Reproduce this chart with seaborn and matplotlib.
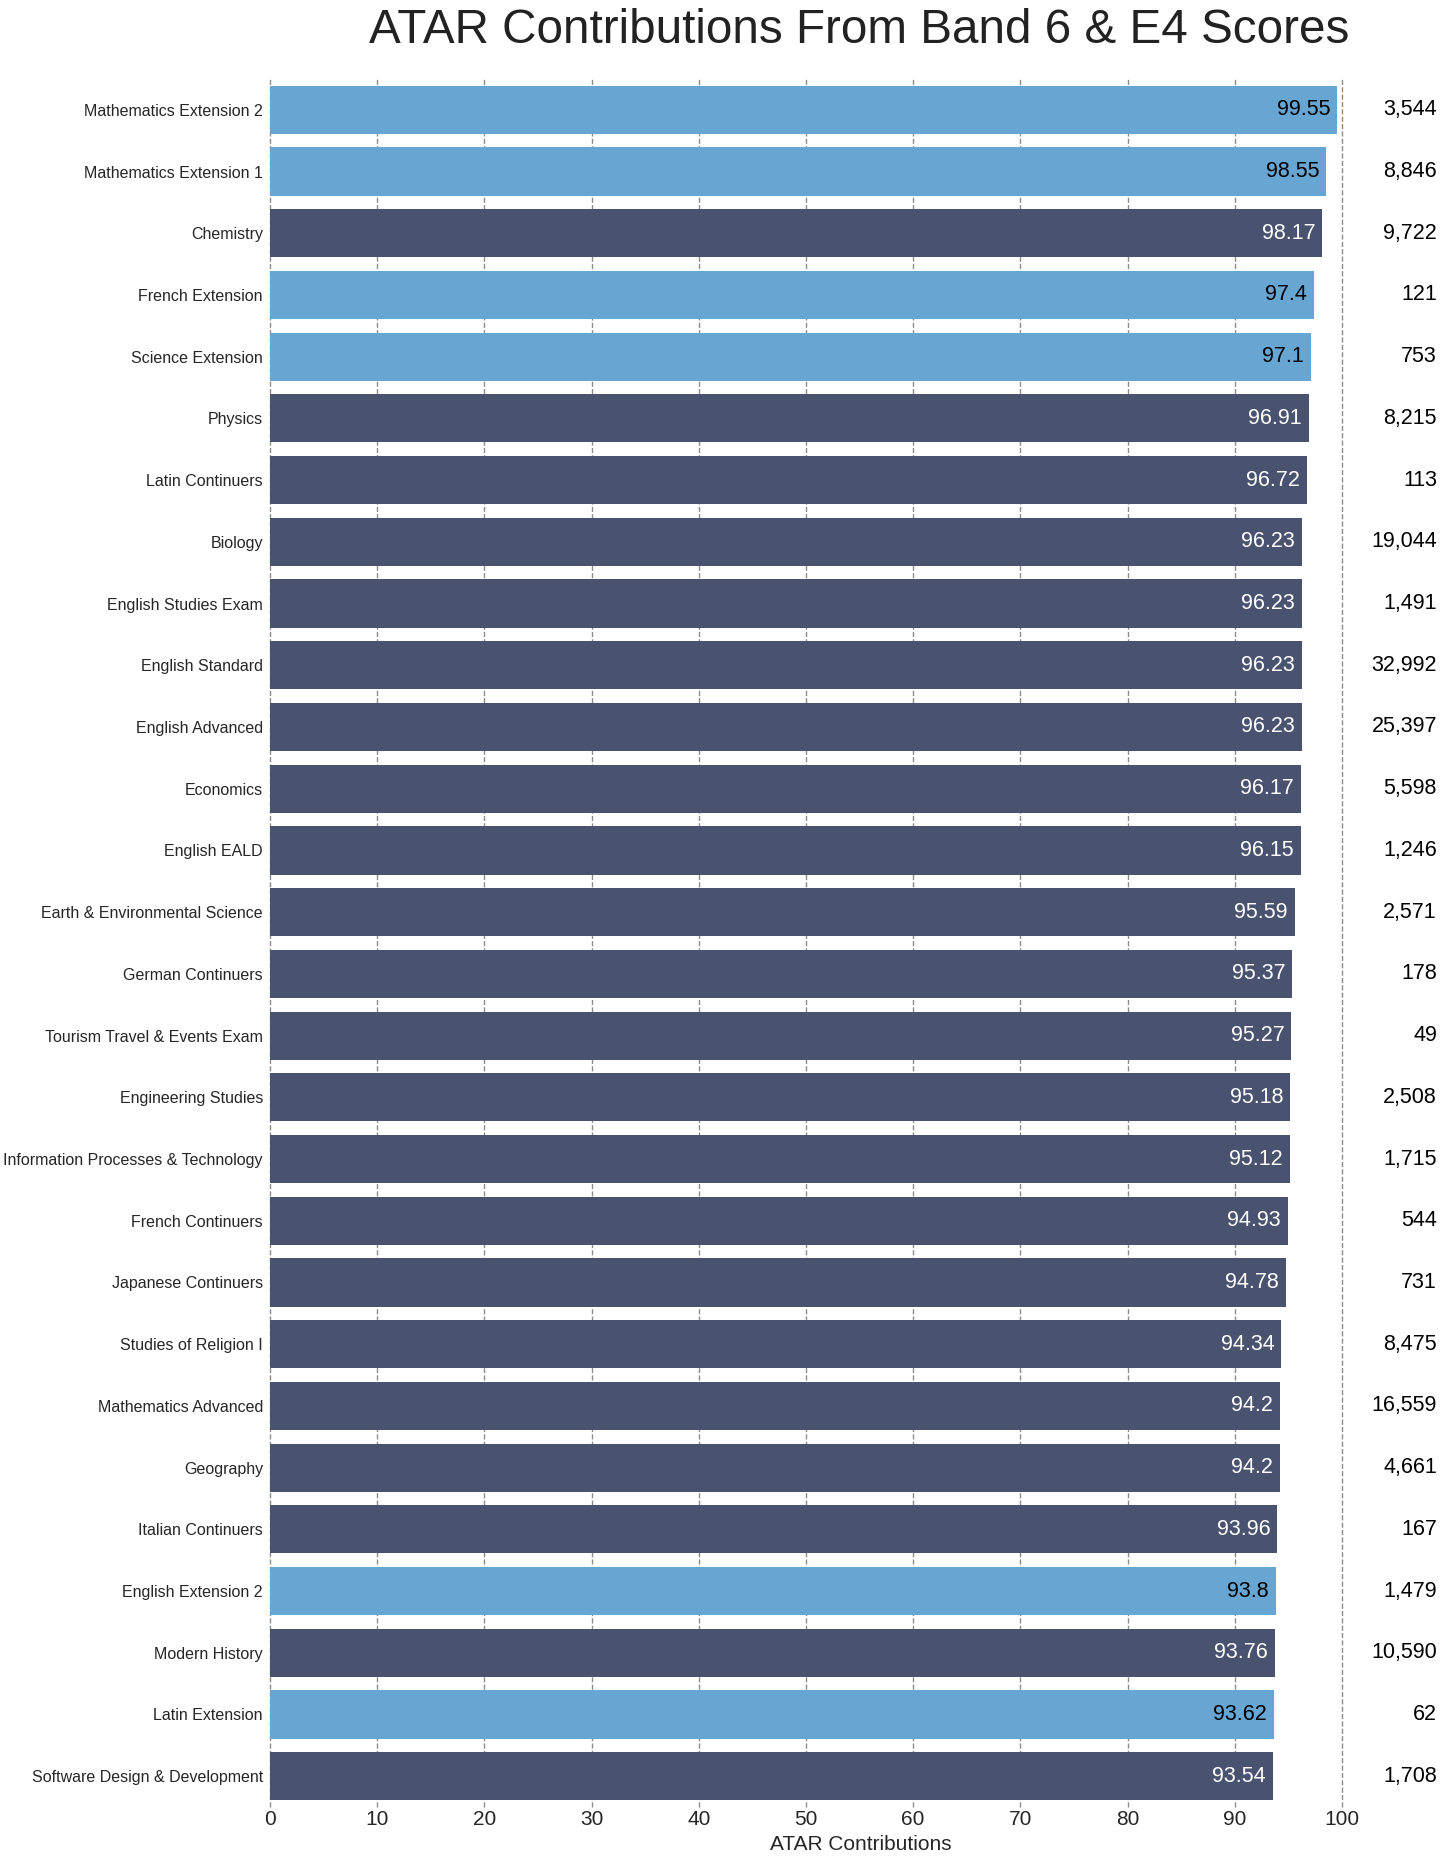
import matplotlib
matplotlib.use('Agg')
import matplotlib.pyplot as plt
import seaborn as sns
import pandas as pd

# Subjects ranked by ATAR contribution
subjects = [
    'Mathematics Extension 2', 'Mathematics Extension 1', 'Chemistry',
    'French Extension', 'Science Extension', 'Physics', 'Latin Continuers',
    'Biology', 'English Studies Exam', 'English Standard', 'English Advanced',
    'Economics', 'English EALD', 'Earth & Environmental Science',
    'German Continuers', 'Tourism Travel & Events Exam', 'Engineering Studies',
    'Information Processes & Technology', 'French Continuers',
    'Japanese Continuers', 'Studies of Religion I', 'Mathematics Advanced',
    'Geography', 'Italian Continuers', 'English Extension 2', 'Modern History',
    'Latin Extension', 'Software Design & Development',
]
atar = [99.55, 98.55, 98.17, 97.4, 97.1, 96.91, 96.72, 96.23, 96.23, 96.23,
        96.23, 96.17, 96.15, 95.59, 95.37, 95.27, 95.18, 95.12, 94.93, 94.78,
        94.34, 94.2, 94.2, 93.96, 93.8, 93.76, 93.62, 93.54]
students = [3544, 8846, 9722, 121, 753, 8215, 113, 19044, 1491, 32992, 25397,
            5598, 1246, 2571, 178, 49, 2508, 1715, 544, 731, 8475, 16559, 4661,
            167, 1479, 10590, 62, 1708]
extension = ['Mathematics Extension 2', 'Mathematics Extension 1', 'French Extension',
             'Science Extension', 'English Extension 2', 'Latin Extension']

light = '#67a6d3'
dark = '#495370'

df = pd.DataFrame({'subject': subjects, 'atar': atar, 'students': students})
palette = {s: (light if s in extension else dark) for s in subjects}

sns.set_style('whitegrid', {'grid.linestyle': '--', 'grid.color': '#999999'})
plt.rcParams['font.family'] = ['Liberation Sans', 'DejaVu Sans']

fig = plt.figure(figsize=(14.56, 18.62), dpi=100)
ax = fig.add_axes([0.1854, 0.0295, 0.7363, 0.9281])

sns.barplot(data=df, x='atar', y='subject', hue='subject', palette=palette,
            legend=False, width=0.78, linewidth=0, saturation=1, ax=ax)

ax.set_xlim(0, 100)
ax.set_xticks(range(0, 101, 10))
ax.grid(axis='x', linestyle='--', color='#8c8c8c', linewidth=1)
ax.grid(axis='y', visible=False)
for gl in ax.get_xgridlines():
    gl.set_clip_on(False)
ax.set_axisbelow(True)
for s in ax.spines.values():
    s.set_visible(False)
ax.tick_params(axis='x', labelsize=15, pad=2, length=0)
ax.tick_params(axis='y', labelsize=11.5, pad=5, length=0)
ax.set_ylabel('')
ax.set_xlabel('ATAR Contributions', fontsize=15)
ax.xaxis.set_label_coords(0.551, -0.016)

for i, (s, v, n) in enumerate(zip(subjects, atar, students)):
    ax.annotate(f'{v:g}', (v, i), xytext=(-5, 0), textcoords='offset points',
                ha='right', va='center', fontsize=15.5,
                color='black' if s in extension else 'white')
    ax.text(1.0886, i, f'{n:,}', transform=ax.get_yaxis_transform(),
            ha='right', va='center', fontsize=15.5, color='black')

fig.text(0.590, 0.9769, 'ATAR Contributions From Band 6 & E4 Scores',
         ha='center', va='baseline', fontsize=34.3, color='#222222')

fig.savefig('out.png', dpi=100)
